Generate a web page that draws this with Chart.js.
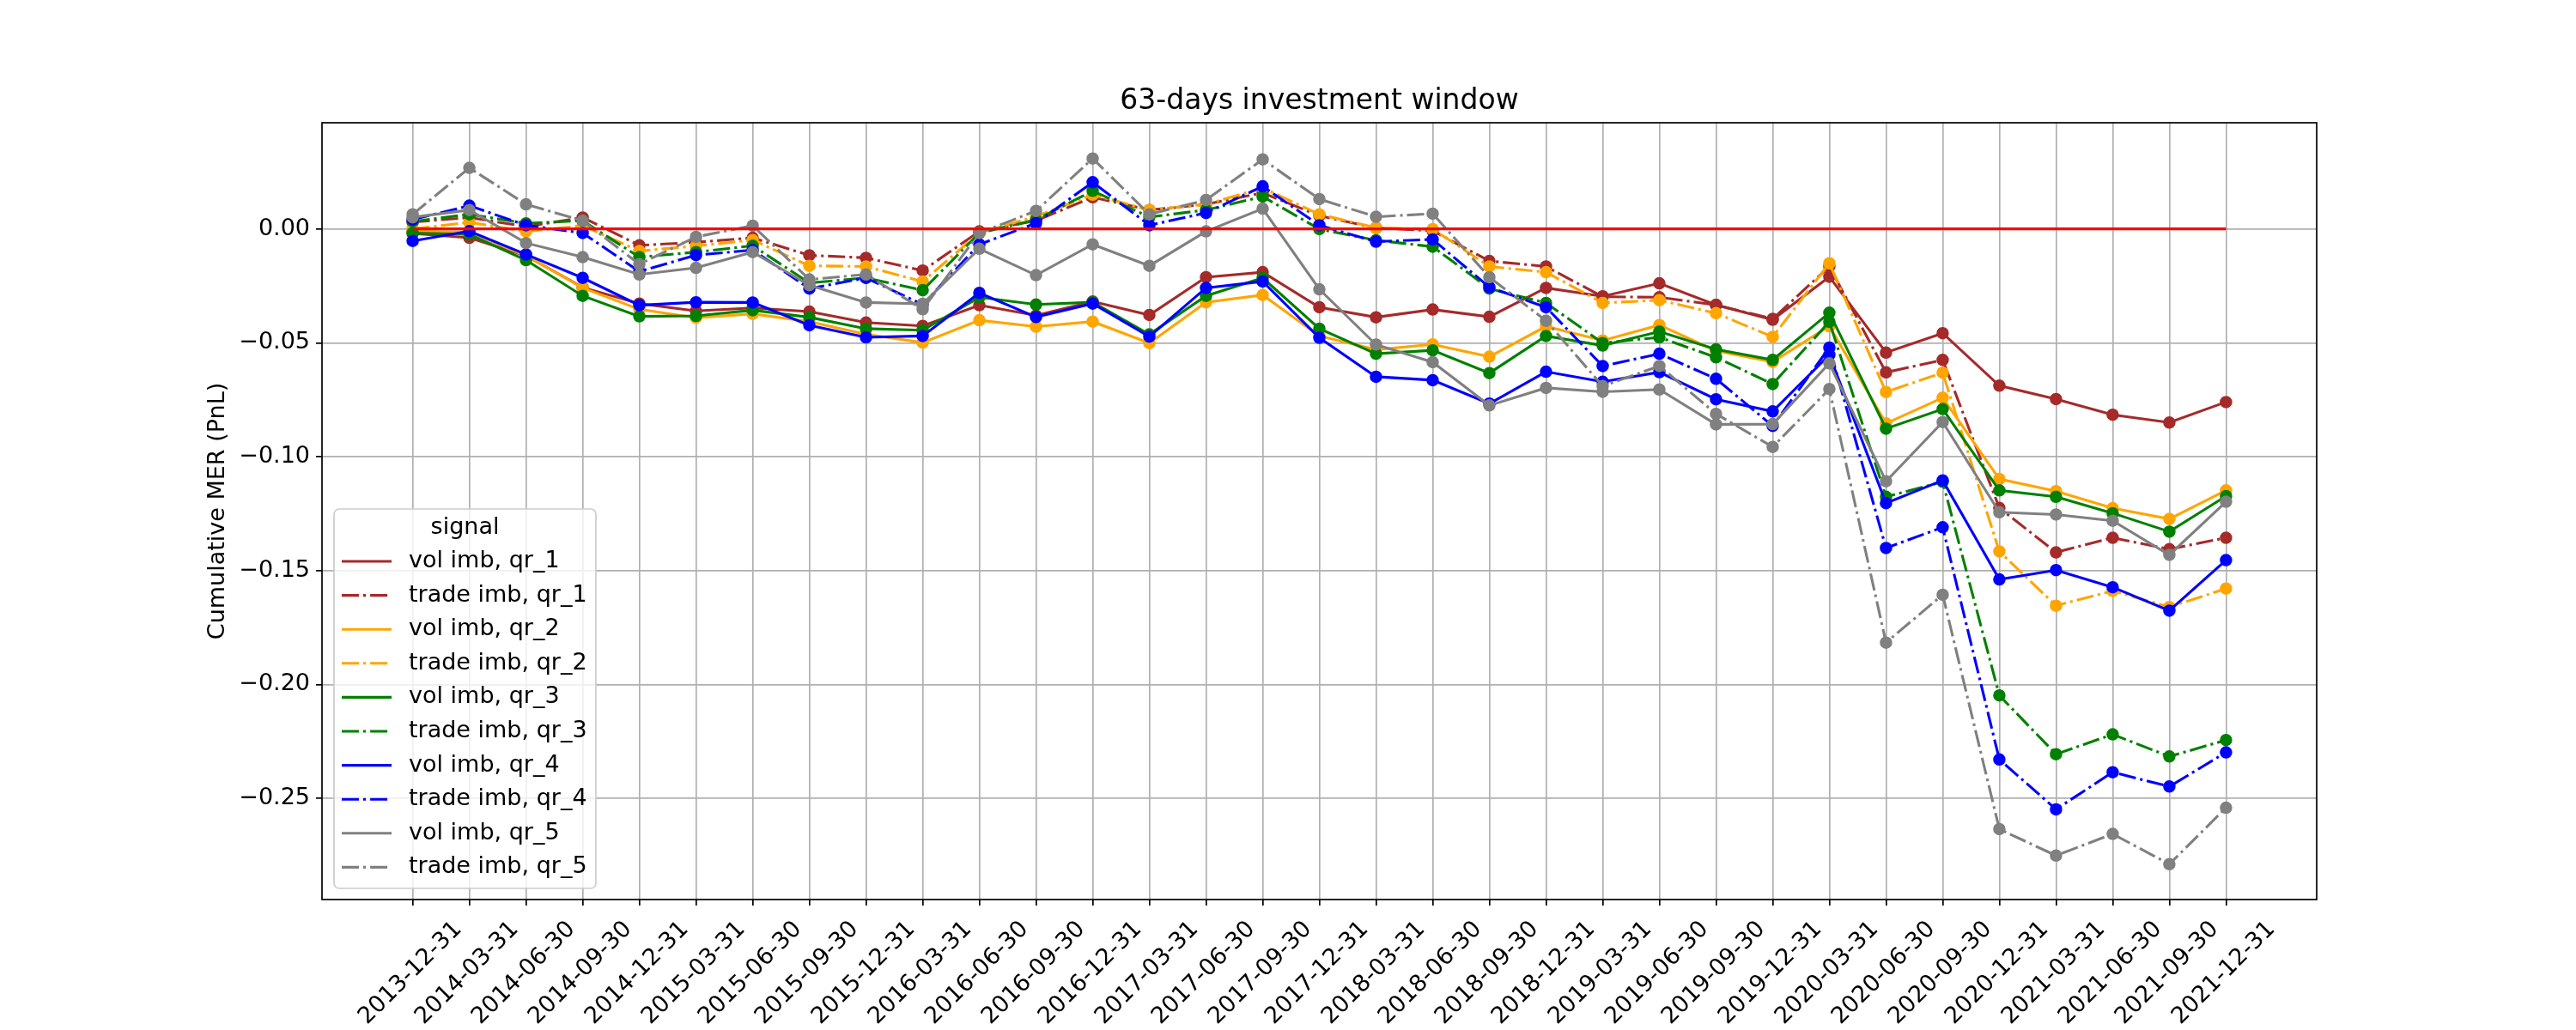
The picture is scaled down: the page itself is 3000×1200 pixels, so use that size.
<!DOCTYPE html>
<html>
<head>
<meta charset="utf-8">
<script src="https://cdn.jsdelivr.net/npm/chart.js@4.4.1/dist/chart.umd.min.js"></script>
<style>
  html, body { margin: 0; padding: 0; background: #fff; }
  canvas { display: block; }
</style>
</head>
<body>
<canvas id="chart" width="3000" height="1200"></canvas>
<script>
// quarter ends on the x axis
const dates = [
    '2013-12-31', '2014-03-31', '2014-06-30', '2014-09-30', '2014-12-31',
    '2015-03-31', '2015-06-30', '2015-09-30', '2015-12-31', '2016-03-31',
    '2016-06-30', '2016-09-30', '2016-12-31', '2017-03-31', '2017-06-30',
    '2017-09-30', '2017-12-31', '2018-03-31', '2018-06-30', '2018-09-30',
    '2018-12-31', '2019-03-31', '2019-06-30', '2019-09-30', '2019-12-31',
    '2020-03-31', '2020-06-30', '2020-09-30', '2020-12-31', '2021-03-31',
    '2021-06-30', '2021-09-30', '2021-12-31'
];
const yTicks = [-0.25, -0.20, -0.15, -0.10, -0.05, 0.00];

const volImbQr1 = [-0.002, -0.0039, -0.0118, -0.0257, -0.0328, -0.0360, -0.0347, -0.0363, -0.0411, -0.0426, -0.0335, -0.0380, -0.0319, -0.0378, -0.0212, -0.0190, -0.0344, -0.0388, -0.0354, -0.0386, -0.0259, -0.0296, -0.0239, -0.0334, -0.0399, -0.0210, -0.0543, -0.0458, -0.0688, -0.0747, -0.0816, -0.0850, -0.0760];
const tradeImbQr1 = [0.003, 0.005, 0.001, 0.005, -0.0072, -0.0059, -0.0039, -0.0116, -0.0127, -0.0183, -0.0011, 0.0036, 0.0139, 0.0083, 0.0108, 0.0158, 0.0058, 0.0004, -0.0008, -0.0141, -0.0165, -0.0298, -0.0300, -0.0334, -0.0395, -0.0165, -0.0630, -0.0575, -0.1225, -0.1420, -0.1356, -0.1406, -0.1356];
const volImbQr2 = [-0.001, -0.0015, -0.0118, -0.0259, -0.0353, -0.0390, -0.0373, -0.0407, -0.0463, -0.0499, -0.0401, -0.0429, -0.0407, -0.0501, -0.0322, -0.0290, -0.0470, -0.0530, -0.0507, -0.0561, -0.0428, -0.0490, -0.0422, -0.0535, -0.0584, -0.0427, -0.0854, -0.0741, -0.1098, -0.1151, -0.1226, -0.1273, -0.1148];
const tradeImbQr2 = [0.000, 0.0029, -0.0011, 0.0014, -0.0097, -0.0075, -0.0049, -0.0162, -0.0165, -0.0231, -0.0018, 0.0055, 0.0150, 0.0083, 0.0108, 0.0180, 0.0064, 0.0005, -0.0001, -0.0165, -0.0190, -0.0325, -0.0313, -0.0370, -0.0474, -0.0151, -0.0716, -0.0631, -0.1416, -0.1654, -0.1589, -0.1660, -0.1579];
const volImbQr3 = [-0.0018, -0.0024, -0.0137, -0.0294, -0.0384, -0.0382, -0.0357, -0.0388, -0.0438, -0.0445, -0.0300, -0.0332, -0.0322, -0.0463, -0.0294, -0.0215, -0.0438, -0.0548, -0.0533, -0.0633, -0.0470, -0.0512, -0.0451, -0.0529, -0.0575, -0.0368, -0.0877, -0.0791, -0.1148, -0.1176, -0.1248, -0.1329, -0.1173];
const tradeImbQr3 = [0.0033, 0.0064, 0.0024, 0.0036, -0.0124, -0.0102, -0.0074, -0.0237, -0.0215, -0.0269, -0.0018, 0.0040, 0.0167, 0.0052, 0.0083, 0.0142, -0.0001, -0.0050, -0.0078, -0.0262, -0.0325, -0.0501, -0.0476, -0.0564, -0.0681, -0.0408, -0.1176, -0.1110, -0.2048, -0.2306, -0.2219, -0.2316, -0.2244];
const volImbQr4 = [-0.0053, -0.0010, -0.0112, -0.0215, -0.0335, -0.0322, -0.0323, -0.0423, -0.0476, -0.0470, -0.0281, -0.0387, -0.0328, -0.0473, -0.0259, -0.0231, -0.0478, -0.0649, -0.0664, -0.0767, -0.0627, -0.0671, -0.0629, -0.0748, -0.0801, -0.0553, -0.1204, -0.1104, -0.1539, -0.1498, -0.1573, -0.1676, -0.1454];
const tradeImbQr4 = [0.0041, 0.0102, 0.0016, -0.0018, -0.0187, -0.0115, -0.0093, -0.0262, -0.0215, -0.0332, -0.0068, 0.0025, 0.0205, 0.0016, 0.0070, 0.0187, 0.0016, -0.0056, -0.0046, -0.0256, -0.0344, -0.0602, -0.0548, -0.0658, -0.0865, -0.0521, -0.1401, -0.1310, -0.2329, -0.2548, -0.2385, -0.2448, -0.2298];
const volImbQr5 = [0.0051, 0.0083, -0.0062, -0.0124, -0.0200, -0.0171, -0.0102, -0.0247, -0.0323, -0.0329, -0.0087, -0.0203, -0.0068, -0.0162, -0.0011, 0.0089, -0.0265, -0.0508, -0.0585, -0.0775, -0.0698, -0.0715, -0.0705, -0.0858, -0.0857, -0.0590, -0.1108, -0.0848, -0.1244, -0.1254, -0.1281, -0.1431, -0.1198];
const tradeImbQr5 = [0.0064, 0.0268, 0.0108, 0.0036, -0.0155, -0.0035, 0.0014, -0.0222, -0.0200, -0.0353, -0.0018, 0.0079, 0.0309, 0.0064, 0.0127, 0.0305, 0.0131, 0.0053, 0.0067, -0.0212, -0.0403, -0.0690, -0.0602, -0.0812, -0.0957, -0.0703, -0.1816, -0.1606, -0.2635, -0.2751, -0.2656, -0.2789, -0.2541];
const zeroLine = dates.map(() => 0);

const FONT = 'DejaVu Sans';
const DASHDOT = [20, 5, 3.1, 5];

const series = [
    { label: 'vol imb, qr_1',   data: volImbQr1,   color: 'brown',  dash: false },
    { label: 'trade imb, qr_1', data: tradeImbQr1, color: 'brown',  dash: true },
    { label: 'vol imb, qr_2',   data: volImbQr2,   color: 'orange', dash: false },
    { label: 'trade imb, qr_2', data: tradeImbQr2, color: 'orange', dash: true },
    { label: 'vol imb, qr_3',   data: volImbQr3,   color: 'green',  dash: false },
    { label: 'trade imb, qr_3', data: tradeImbQr3, color: 'green',  dash: true },
    { label: 'vol imb, qr_4',   data: volImbQr4,   color: 'blue',   dash: false },
    { label: 'trade imb, qr_4', data: tradeImbQr4, color: 'blue',   dash: true },
    { label: 'vol imb, qr_5',   data: volImbQr5,   color: 'gray',   dash: false },
    { label: 'trade imb, qr_5', data: tradeImbQr5, color: 'gray',   dash: true }
];

const datasets = series.map((s, i) => ({
    label: s.label,
    data: s.data.map((v, j) => ({ x: j, y: v })),
    borderColor: s.color,
    backgroundColor: s.color,
    borderWidth: 3.1,
    borderDash: s.dash ? DASHDOT : [],
    borderCapStyle: 'butt',
    pointRadius: 6.5,
    pointBorderWidth: 1.5,
    pointBackgroundColor: s.color,
    pointBorderColor: s.color,
    tension: 0,
    order: -i
}));
datasets.push({
    label: 'zero',
    data: zeroLine.map((v, j) => ({ x: j, y: v })),
    borderColor: '#ff0000',
    borderWidth: 3.1,
    pointRadius: 0,
    order: -series.length
});

// matplotlib-style frame and legend box in the lower left corner
const mplDecor = {
    id: 'mplDecor',
    afterDraw(chart) {
        const ctx = chart.ctx;
        const { left, top, right, bottom } = chart.chartArea;
        ctx.save();
        ctx.setLineDash([]);
        ctx.strokeStyle = '#000';
        ctx.lineWidth = 1.7;
        ctx.strokeRect(left, top, right - left, bottom - top);

        const bw = 305, bh = 442;
        const bx = left + 14, by = bottom - 13 - bh;
        ctx.beginPath();
        ctx.roundRect(bx, by, bw, bh, 6);
        ctx.fillStyle = 'rgba(255,255,255,0.8)';
        ctx.fill();
        ctx.strokeStyle = '#cccccc';
        ctx.lineWidth = 1.7;
        ctx.stroke();

        ctx.font = `27px "${FONT}"`;
        ctx.fillStyle = '#000';
        ctx.textBaseline = 'middle';
        ctx.textAlign = 'center';
        ctx.fillText('signal', bx + bw / 2, by + 22);

        ctx.textAlign = 'left';
        series.forEach((s, k) => {
            const y = by + 61 + 39.6 * k;
            ctx.beginPath();
            ctx.strokeStyle = s.color;
            ctx.lineWidth = 3.1;
            ctx.lineCap = 'butt';
            ctx.setLineDash(s.dash ? DASHDOT : []);
            ctx.moveTo(bx + 9, y);
            ctx.lineTo(bx + 67, y);
            ctx.stroke();
            ctx.setLineDash([]);
            ctx.fillStyle = '#000';
            ctx.fillText(s.label, bx + 87, y);
        });
        ctx.restore();
    }
};

new Chart(document.getElementById('chart'), {
    type: 'line',
    data: { datasets: datasets },
    options: {
        responsive: false,
        animation: false,
        devicePixelRatio: 1,
        layout: { padding: { left: 230, right: 302, top: 80, bottom: 0 } },
        plugins: {
            legend: { display: false },
            tooltip: { enabled: false },
            title: {
                display: true,
                text: '63-days investment window',
                fullSize: false,
                color: '#000',
                font: { family: FONT, size: 33, weight: 'normal' },
                padding: { top: 19, bottom: 4.4 }
            }
        },
        scales: {
            x: {
                type: 'linear',
                min: -1.6,
                max: 33.6,
                afterBuildTicks: (scale) => { scale.ticks = dates.map((_, i) => ({ value: i })); },
                afterFit: (scale) => { scale.height = 152; },
                grid: { color: '#b0b0b0', lineWidth: 1.7, tickLength: 7, tickColor: '#000', tickWidth: 1.7 },
                border: { display: false },
                ticks: {
                    autoSkip: false,
                    minRotation: 45,
                    maxRotation: 45,
                    padding: 12,
                    labelOffset: 53,
                    color: '#000',
                    font: { family: FONT, size: 27 },
                    callback: (v) => dates[v]
                }
            },
            y: {
                type: 'linear',
                min: -0.2944,
                max: 0.0466,
                afterBuildTicks: (scale) => { scale.ticks = yTicks.map(v => ({ value: v })); },
                afterFit: (scale) => { scale.width = 145; },
                grid: { color: '#b0b0b0', lineWidth: 1.7, tickLength: 7, tickColor: '#000', tickWidth: 1.7 },
                border: { display: false },
                title: {
                    display: true,
                    text: 'Cumulative MER (PnL)',
                    color: '#000',
                    font: { family: FONT, size: 27 },
                    padding: { top: 8, bottom: 0 }
                },
                ticks: {
                    padding: 7,
                    color: '#000',
                    font: { family: FONT, size: 27 },
                    callback: (v) => v === 0 ? '0.00' : '\u2212' + Math.abs(v).toFixed(2)
                }
            }
        }
    },
    plugins: [mplDecor]
});
</script>
</body>
</html>
